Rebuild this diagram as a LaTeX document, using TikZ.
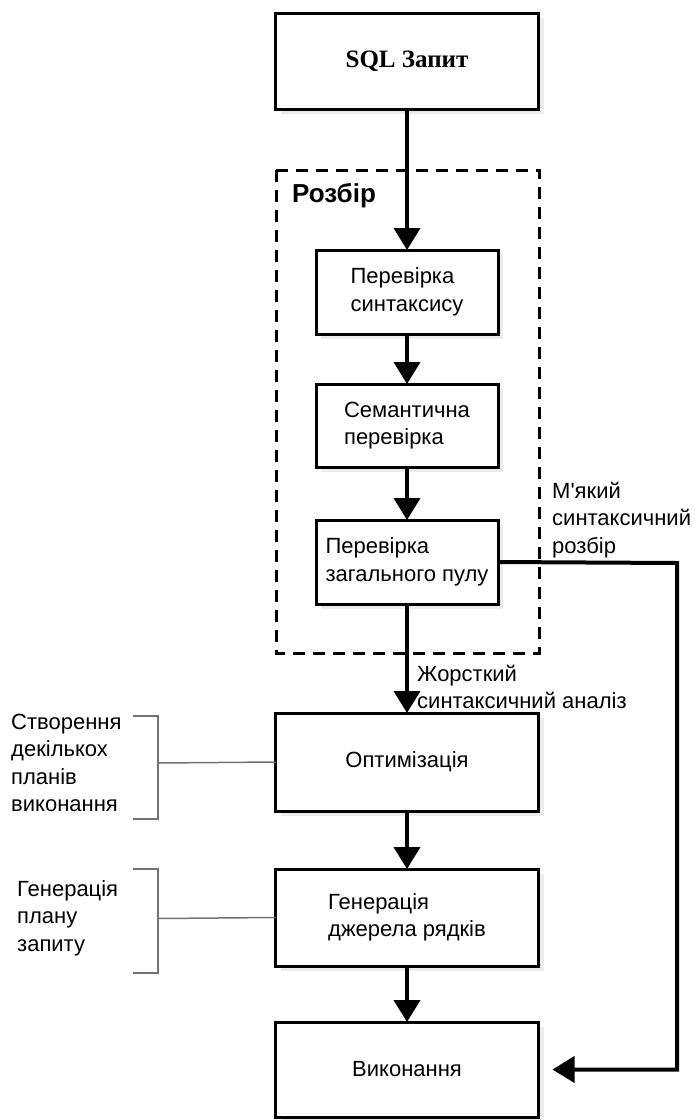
\documentclass[tikz,border=0pt]{standalone}
\usepackage{fontspec}
\setmainfont{Liberation Sans}
\newfontfamily\sqlfont{Liberation Serif}
\usepackage{tikz}
\usetikzlibrary{arrows.meta,positioning,shadows}
\tikzset{stage/.style={rectangle,draw=black,line width=3pt,fill=white,outer sep=0pt,inner sep=0pt,minimum width=263pt,align=left,font=\fontsize{22}{27.5}\selectfont,drop shadow={shadow xshift=5pt,shadow yshift=-5pt,fill=black!15}}}
\tikzset{check/.style={stage,minimum width=182pt,minimum height=84pt}}
\tikzset{phase/.style={draw=black,line width=3pt,dash pattern=on 12pt off 8pt}}
\tikzset{flow/.style={line width=4pt,-{Triangle[width=26pt,length=22pt]}}}
\tikzset{brace/.style={draw=black!55,line width=1.5pt}}
\tikzset{note/.style={align=left,inner sep=0pt,font=\fontsize{22}{27.5}\selectfont}}

\begin{document}
\begin{tikzpicture}[x=1pt,y=-1pt]
  \useasboundingbox (0,0) rectangle (695,1120);
  \draw[phase] (276,170) rectangle (539,653);
  \node[note,anchor=west,font=\fontsize{26}{30}\selectfont\bfseries] (parse) at (292,196) {Розбір};
  \node[stage,minimum height=96pt,font=\fontsize{25}{30}\selectfont\sqlfont\bfseries] (query) at (407,61) {SQL Запит};
  \node[check,below=141pt of query] (syntax) {Перевірка\\синтаксису};
  \node[check,below=50pt of syntax,minimum height=83pt] (semantic) {Семантична\\перевірка};
  \node[check,below=53pt of semantic] (pool) {Перевірка\\загального пулу};
  \node[stage,below=109pt of pool,minimum height=98pt] (optim) {Оптимізація};
  \node[stage,below=58pt of optim,minimum height=97pt] (gen) {Генерація\\джерела рядків};
  \node[stage,below=56pt of gen,minimum height=95pt] (exec) {Виконання};
  \node[note,anchor=west] (soft) at (552,520) {М\textquotesingle який\\синтаксичний\\розбір};
  \node[note,anchor=west] (hard) at (417,687) {Жорсткий\\синтаксичний аналіз};
  \node[note,anchor=west] (plans) at (11,763) {Створення\\декількох\\планів\\виконання};
  \node[note,anchor=west] (plan) at (17,918) {Генерація\\плану\\запиту};
  \coordinate (bend) at (677,563);
  \coordinate (optbrace) at (158,763);
  \coordinate (genbrace) at (158,918.5);
  \draw[flow] (query) edge (syntax)
              (syntax) edge (semantic)
              (semantic) edge (pool)
              (pool) edge (optim)
              (optim) edge (gen)
              (gen) edge (exec);
  \draw[flow,shorten >=14pt] (pool.east) -- (bend) |- (exec.east);
  \draw[brace] (133,716) -| (158,819) -- (133,819);
  \draw[brace] (133,869) -| (158,973) -- (133,973);
  \draw[brace] (optbrace) -- (optim.west);
  \draw[brace] (genbrace) -- (gen.west);
\end{tikzpicture}
\end{document}
